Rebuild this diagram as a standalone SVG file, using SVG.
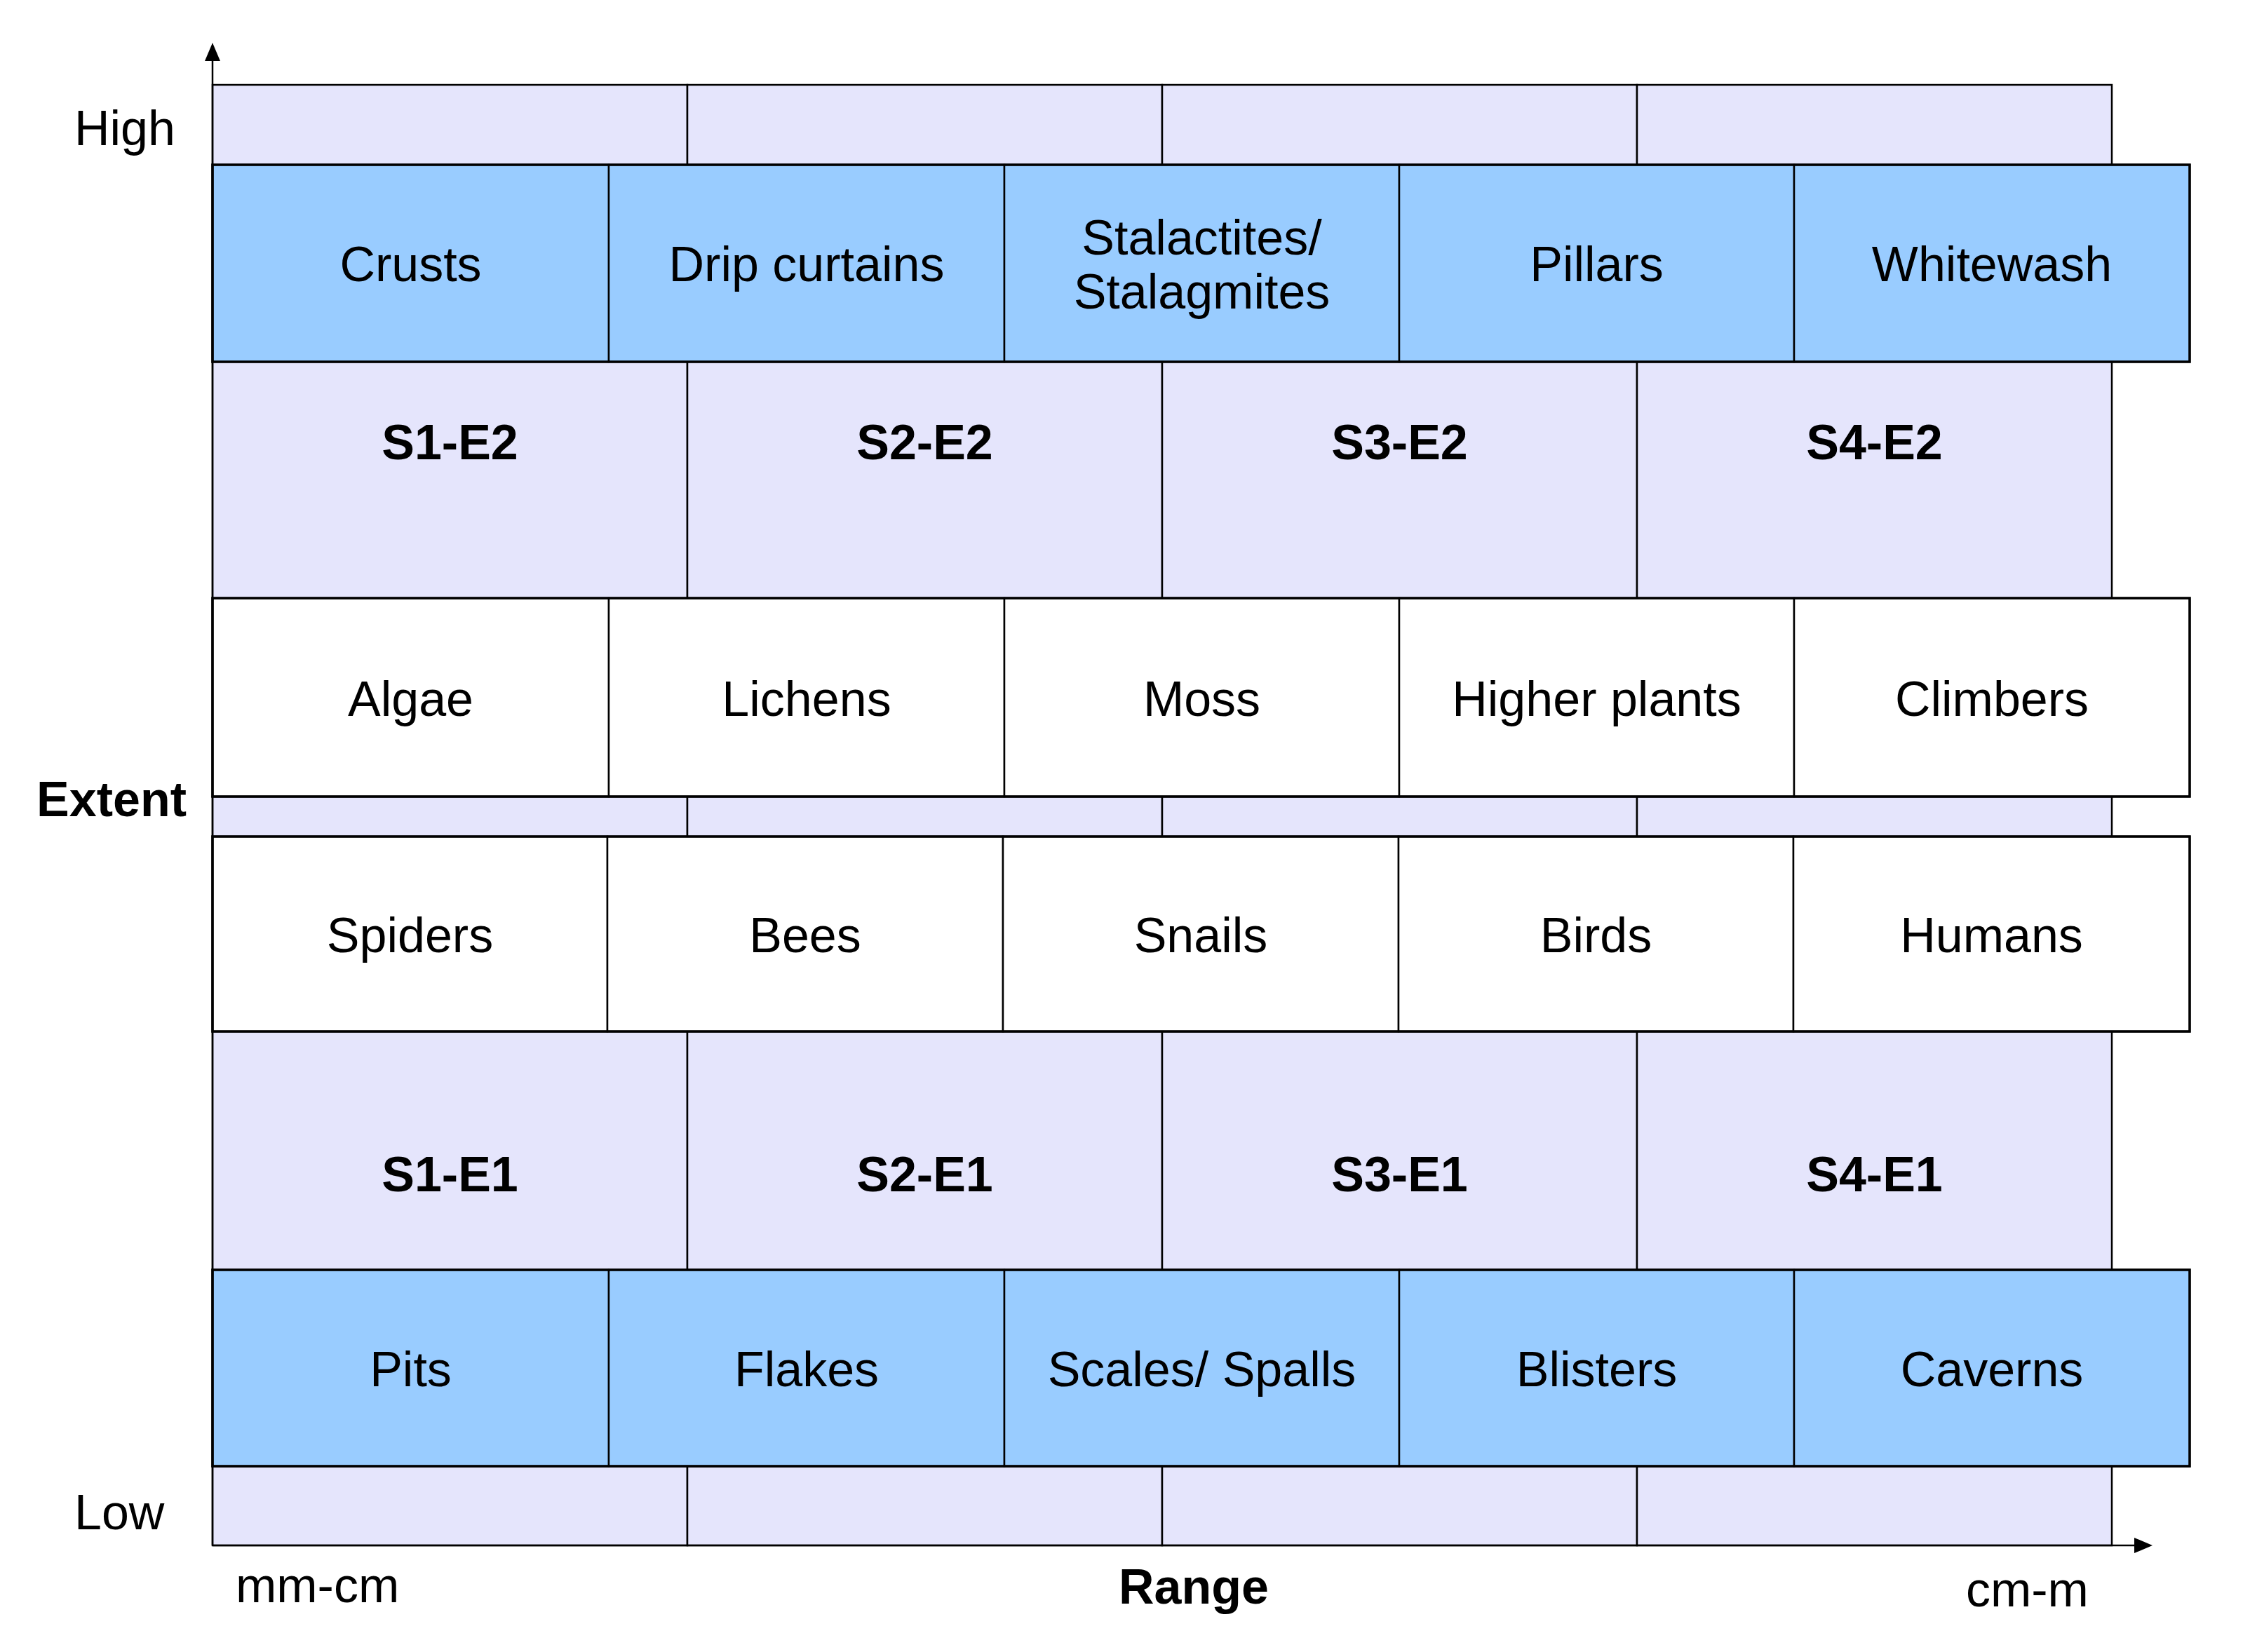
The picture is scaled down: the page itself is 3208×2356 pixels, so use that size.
<svg xmlns="http://www.w3.org/2000/svg" width="3208" height="2356" viewBox="0 0 3208 2356">
<defs>
<style>
.lav{fill:#E5E5FC;stroke:#000;stroke-width:2.5}
.blue{fill:#99CCFF;stroke:#000;stroke-width:2.5}
.wht{fill:#FFFFFF;stroke:#000;stroke-width:2.5}
.frame{fill:none;stroke:#000;stroke-width:3.5}
.t{font-family:"Liberation Sans",Arial,sans-serif;font-size:70px;fill:#000;text-anchor:middle}
.b{font-family:"Liberation Sans",Arial,sans-serif;font-size:70px;font-weight:bold;fill:#000;text-anchor:middle}
.ax{font-family:"Liberation Sans",Arial,sans-serif;font-size:70px;fill:#000}
.axis{fill:none;stroke:#000;stroke-width:2.5}
</style>
<marker id="arr" viewBox="0 0 26 22" refX="0" refY="11" markerWidth="26" markerHeight="22" markerUnits="userSpaceOnUse" orient="auto">
<path d="M0,0 L26,11 L0,22 z" fill="#000"/>
</marker>
</defs>
<rect width="3208" height="2356" fill="#fff"/>

<g id="S1-E2"><rect class="lav" x="303" y="121" width="677" height="1015"/><text class="b" x="641.5" y="655">S1-E2</text></g>
<g id="S2-E2"><rect class="lav" x="980" y="121" width="677" height="1015"/><text class="b" x="1318.5" y="655">S2-E2</text></g>
<g id="S3-E2"><rect class="lav" x="1657" y="121" width="677" height="1015"/><text class="b" x="1995.5" y="655">S3-E2</text></g>
<g id="S4-E2"><rect class="lav" x="2334" y="121" width="677" height="1015"/><text class="b" x="2672.5" y="655">S4-E2</text></g>

<g id="S1-E1"><rect class="lav" x="303" y="1136" width="677" height="1068"/><text class="b" x="641.5" y="1699">S1-E1</text></g>
<g id="S2-E1"><rect class="lav" x="980" y="1136" width="677" height="1068"/><text class="b" x="1318.5" y="1699">S2-E1</text></g>
<g id="S3-E1"><rect class="lav" x="1657" y="1136" width="677" height="1068"/><text class="b" x="1995.5" y="1699">S3-E1</text></g>
<g id="S4-E1"><rect class="lav" x="2334" y="1136" width="677" height="1068"/><text class="b" x="2672.5" y="1699">S4-E1</text></g>

<g id="crusts"><rect class="blue" x="303" y="235" width="565" height="281"/><text class="t" x="585.5" y="401">Crusts</text></g>
<g id="drip-curtains"><rect class="blue" x="868" y="235" width="564" height="281"/><text class="t" x="1150" y="401">Drip curtains</text></g>
<g id="stalactites"><rect class="blue" x="1432" y="235" width="563" height="281"/><text class="t" x="1713.5" y="363">Stalactites/</text><text class="t" x="1713.5" y="440">Stalagmites</text></g>
<g id="pillars"><rect class="blue" x="1995" y="235" width="563" height="281"/><text class="t" x="2276.5" y="401">Pillars</text></g>
<g id="whitewash"><rect class="blue" x="2558" y="235" width="564" height="281"/><text class="t" x="2840" y="401">Whitewash</text></g>
<rect class="frame" x="303" y="235" width="2819" height="281"/>

<g id="algae"><rect class="wht" x="303" y="853" width="565" height="283"/><text class="t" x="585.5" y="1021">Algae</text></g>
<g id="lichens"><rect class="wht" x="868" y="853" width="564" height="283"/><text class="t" x="1150" y="1021">Lichens</text></g>
<g id="moss"><rect class="wht" x="1432" y="853" width="563" height="283"/><text class="t" x="1713.5" y="1021">Moss</text></g>
<g id="higher-plants"><rect class="wht" x="1995" y="853" width="563" height="283"/><text class="t" x="2276.5" y="1021">Higher plants</text></g>
<g id="climbers"><rect class="wht" x="2558" y="853" width="564" height="283"/><text class="t" x="2840" y="1021">Climbers</text></g>
<rect class="frame" x="303" y="853" width="2819" height="283"/>

<g id="spiders"><rect class="wht" x="303" y="1193" width="563" height="278"/><text class="t" x="584.5" y="1358">Spiders</text></g>
<g id="bees"><rect class="wht" x="866" y="1193" width="564" height="278"/><text class="t" x="1148" y="1358">Bees</text></g>
<g id="snails"><rect class="wht" x="1430" y="1193" width="564" height="278"/><text class="t" x="1712" y="1358">Snails</text></g>
<g id="birds"><rect class="wht" x="1994" y="1193" width="563" height="278"/><text class="t" x="2275.5" y="1358">Birds</text></g>
<g id="humans"><rect class="wht" x="2557" y="1193" width="565" height="278"/><text class="t" x="2839.5" y="1358">Humans</text></g>
<rect class="frame" x="303" y="1193" width="2819" height="278"/>

<g id="pits"><rect class="blue" x="303" y="1811" width="565" height="280"/><text class="t" x="585.5" y="1977">Pits</text></g>
<g id="flakes"><rect class="blue" x="868" y="1811" width="564" height="280"/><text class="t" x="1150" y="1977">Flakes</text></g>
<g id="scales"><rect class="blue" x="1432" y="1811" width="563" height="280"/><text class="t" x="1713.5" y="1977">Scales/ Spalls</text></g>
<g id="blisters"><rect class="blue" x="1995" y="1811" width="563" height="280"/><text class="t" x="2276.5" y="1977">Blisters</text></g>
<g id="caverns"><rect class="blue" x="2558" y="1811" width="564" height="280"/><text class="t" x="2840" y="1977">Caverns</text></g>
<rect class="frame" x="303" y="1811" width="2819" height="280"/>

<g id="connectors">
<path class="axis" d="M303,2204 L303,87" marker-end="url(#arr)"/>
<path class="axis" d="M303,2204 L3043,2204" marker-end="url(#arr)"/>
</g>

<g id="labels">
<text class="ax" x="106" y="207">High</text>
<text class="ax" x="106" y="2181">Low</text>
<text class="b" x="159" y="1164">Extent</text>
<text class="ax" x="336" y="2285">mm-cm</text>
<text class="b" x="1702" y="2287">Range</text>
<text class="ax" x="2803" y="2291">cm-m</text>
</g>
</svg>
